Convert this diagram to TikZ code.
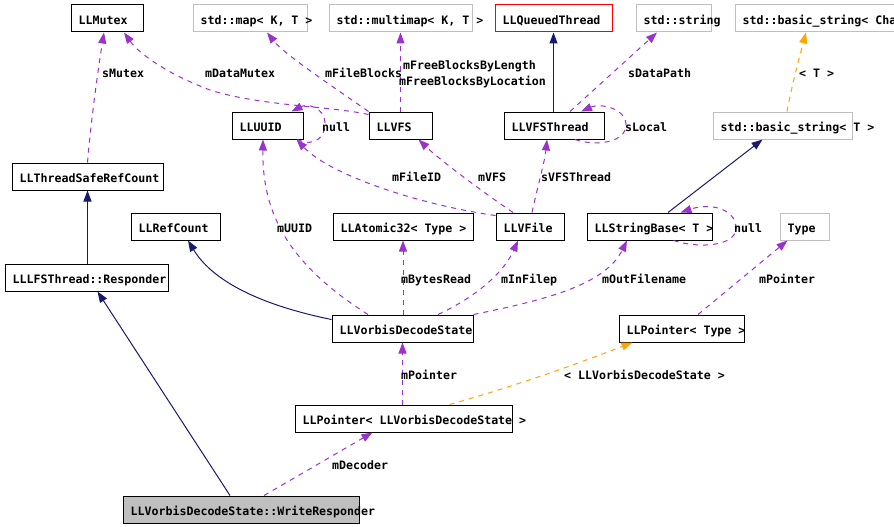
\documentclass[tikz,border=0pt]{standalone}
\usepackage{fontspec}
\newfontfamily\dxfont{DejaVu Sans Mono}
\usetikzlibrary{arrows.meta,calc}
\definecolor{usec}{HTML}{9A32CD}
\definecolor{inhc}{HTML}{191970}
\definecolor{tplc}{HTML}{FFA500}
\definecolor{grayb}{HTML}{BFBFBF}
\tikzset{
  box/.style={draw=black, fill=white, line width=1pt, minimum height=27pt, inner sep=0pt},
  gbox/.style={box, draw=grayb},
  rbox/.style={box, draw=red},
  fbox/.style={box, fill=grayb},
  txt/.style={anchor=west, inner sep=0pt, font={\dxfont\bfseries\fontsize{11.6}{13}\selectfont}, text height=8.5pt, text depth=0pt},
  lbl/.style={txt},
  tip/.style={-{Triangle[length=11pt,width=8pt]}},
  usage/.style={draw=usec, line width=1pt, dash pattern=on 5pt off 5pt, tip},
  inh/.style={draw=inhc, line width=1pt, tip},
  tpl/.style={draw=tplc, line width=1pt, dash pattern=on 5pt off 5pt, tip},
}
\newcommand\cls[6]{%
  \node[#1, minimum width=#5pt] (#2) at (#3,#4) {};
  \node[txt] (#2-t) at ([xshift=8pt,yshift=-1.5pt]#2.west) {#6};}
\begin{document}
\begin{tikzpicture}[x=1pt,y=-1pt]
\clip (0,0) rectangle (894,527);
\fill[white] (0,0) rectangle (894,527);
% classes
\cls{box}{mutex}{107}{18.5}{72}{LLMutex}
\cls{gbox}{map}{250}{18.5}{114}{std::map< K, T >}
\cls{gbox}{mmap}{400.5}{18.5}{143}{std::multimap< K, T >}
\cls{rbox}{queued}{553.5}{18.5}{117}{LLQueuedThread}
\cls{gbox}{str}{673.5}{18.5}{75}{std::string}
\cls{gbox}{bschar}{835}{18.5}{200}{std::basic\_string< Char >}
\cls{box}{uuid}{267.5}{125.5}{71}{LLUUID}
\cls{box}{vfs}{400.5}{125.5}{63}{LLVFS}
\cls{box}{vfsth}{554}{125.5}{100}{LLVFSThread}
\cls{gbox}{bst}{782.5}{125.5}{139}{std::basic\_string< T >}
\cls{box}{tsrc}{87.5}{176.5}{151}{LLThreadSafeRefCount}
\cls{box}{refc}{175.5}{226.5}{89}{LLRefCount}
\cls{box}{atom}{403}{226.5}{140}{LLAtomic32< Type >}
\cls{box}{vfile}{530}{226.5}{68}{LLVFile}
\cls{box}{strb}{649.5}{226.5}{125}{LLStringBase< T >}
\cls{gbox}{type}{804.5}{226.5}{49}{Type}
\cls{box}{resp}{86.5}{277.5}{163}{LLLFSThread::Responder}
\cls{box}{vds}{402.5}{328.5}{141}{LLVorbisDecodeState}
\cls{box}{ptype}{681.5}{328.5}{125}{LLPointer< Type >}
\cls{box}{pvds}{403.5}{418.5}{217}{LLPointer< LLVorbisDecodeState >}
\cls{fbox}{wr}{241}{509.5}{236}{LLVorbisDecodeState::WriteResponder}
% connectors
\draw[inh] (resp.north -| tsrc.south) -- (tsrc.south);
\draw[usage] (tsrc.north) .. controls (91,120) and (98,70) .. ([xshift=-3pt]mutex.south);
\draw[usage] ([yshift=-3pt]vfs.north west) .. controls (330,106) and (260,106) .. (210,90) .. controls (170,75) and (140,55) .. ([xshift=17pt]mutex.south);
\draw[usage] (vfs.north west) .. controls (335,88) and (285,55) .. ([xshift=17pt]map.south);
\draw[usage] (vfs.north) -- (mmap.south);
\draw[usage] ([xshift=30pt]uuid.south) .. controls (315,148) and (326,136) .. (325,122) .. controls (324,108) and (308,103) .. ([xshift=24pt]uuid.north);
\draw[inh] (vfsth.north -| queued.south) -- (queued.south);
\draw[usage] ([xshift=16pt]vfsth.north) -- ([xshift=-16.5pt]str.south);
\draw[usage] ([xshift=21pt]vfsth.south) .. controls (597,147) and (626,142) .. (626,125) .. controls (626,108) and (600,103) .. ([xshift=27pt]vfsth.north);
\draw[tpl] ([xshift=4.5pt]bst.north) .. controls (793,80) and (800,55) .. ([xshift=-29pt]bschar.south);
\draw[inh] ([xshift=18.5pt]strb.north) -- ([xshift=-20pt]bst.south);
\draw[usage] ([xshift=24pt]strb.south) .. controls (700,249) and (736,246) .. (736,228) .. controls (736,210) and (712,202) .. ([xshift=31pt]strb.north);
\draw[usage] ([xshift=2pt]vfile.north) .. controls (538,185) and (545,160) .. ([xshift=-7pt]vfsth.south);
\draw[usage] ([xshift=-17pt]vfile.north) .. controls (480,190) and (440,160) .. ([xshift=18pt]vfs.south);
\draw[usage] ([yshift=-3pt]vfile.north west) .. controls (420,205) and (330,175) .. ([xshift=-7pt]uuid.south east);
\draw[inh] ([yshift=-5pt]vds.north west) .. controls (270,307) and (215,285) .. ([xshift=12.5pt]refc.south);
\draw[usage] ([xshift=-34.5pt]vds.north) .. controls (290,265) and (262,215) .. ([xshift=-4.5pt]uuid.south);
\draw[usage] (vds.north -| atom.south) -- (atom.south);
\draw[usage] ([xshift=35.5pt]vds.north) .. controls (480,295) and (505,270) .. ([xshift=-12pt]vfile.south);
\draw[usage] (vds.north east) .. controls (545,300) and (605,285) .. ([xshift=-22.5pt]strb.south);
\draw[usage] ([xshift=16.5pt]ptype.north) -- ([xshift=-17pt]type.south);
\draw[usage] (pvds.north -| vds.south) -- (vds.south);
\draw[tpl] ([xshift=46pt]pvds.north) .. controls (530,382) and (600,355) .. ([xshift=-49pt]ptype.south);
\draw[inh] ([xshift=-11pt]wr.north) -- ([xshift=11pt]resp.south);
\draw[usage] ([xshift=23pt]wr.north) -- ([xshift=-31pt]pvds.south);
% labels
\node[lbl] (l1) at (102,73) {sMutex};
\node[lbl] (l2) at (205,73) {mDataMutex};
\node[lbl] (l3) at (325,73) {mFileBlocks};
\node[lbl] (l4a) at (403,65) {mFreeBlocksByLength};
\node[lbl] (l4b) at (399,81) {mFreeBlocksByLocation};
\node[lbl] (l5) at (628,73) {sDataPath};
\node[lbl] (l6) at (799,73) {< T >};
\node[lbl] (l7) at (322,127) {null};
\node[lbl] (l8) at (625,127) {sLocal};
\node[lbl] (l9) at (392,177) {mFileID};
\node[lbl] (l10) at (478,177) {mVFS};
\node[lbl] (l11) at (541,177) {sVFSThread};
\node[lbl] (l12) at (277,228) {mUUID};
\node[lbl] (l13) at (734,228) {null};
\node[lbl] (l14) at (401,279) {mBytesRead};
\node[lbl] (l15) at (501,279) {mInFilep};
\node[lbl] (l16) at (602,279) {mOutFilename};
\node[lbl] (l17) at (759,279) {mPointer};
\node[lbl] (l18) at (401,375) {mPointer};
\node[lbl] (l19) at (564,375) {< LLVorbisDecodeState >};
\node[lbl] (l20) at (332,465) {mDecoder};
\end{tikzpicture}
\end{document}
